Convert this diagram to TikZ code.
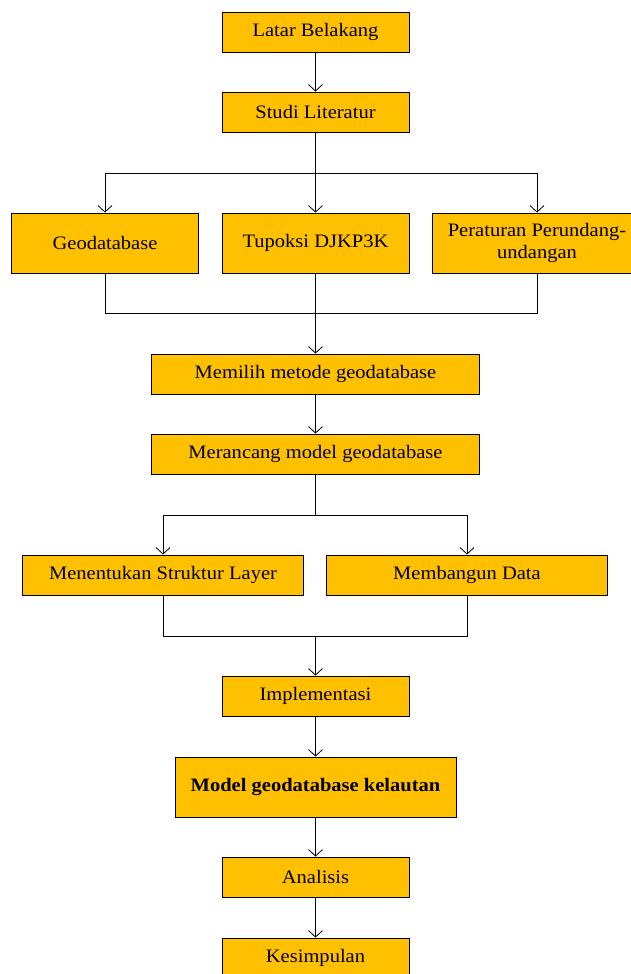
\documentclass[tikz,border=0pt]{standalone}
\usepackage{fontspec}
\setmainfont{Liberation Serif}[FakeStretch=1.08]
\usetikzlibrary{arrows.meta}
\definecolor{emas}{HTML}{FFC000}

\begin{document}
\begin{tikzpicture}[x=1pt,y=-1pt,line width=0.8pt,
  blok/.style={draw=black, fill=emas, line width=0.8pt, inner sep=0pt, align=center, minimum width=187pt, minimum height=40pt, font=\fontsize{19}{21.7}\selectfont},
  panah/.style={-{Straight Barb[length=6.5pt,width=14pt]}}]
\useasboundingbox (0,0) rectangle (630,974);
\node[blok] (st0) at (315.5,32){Latar Belakang};
\node[blok] (st1) at (315.5,112){Studi Literatur};
\draw[panah](st0) -- (st1);
\node[blok, minimum height=60pt] (st2) at (105,243){Geodatabase};
\node[blok, minimum height=60pt] (st3) at (315.5,243){Tupoksi DJKP3K};
\node[blok, minimum width=210pt, minimum height=60pt] (st4) at (537,243){Peraturan Perundang-\\undangan};
\coordinate (jn0) at (315.5,173);
\coordinate (jn1) at (315.5,313);
\draw[](jn0 -| st2.north) -- (jn0 -| st4.north);
\draw[panah](jn0 -| st2.north) -- (st2.north);
\draw[panah](st1.south) -- (st3.north);
\draw[panah](jn0 -| st4.north) -- (st4.north);
\draw[](st2.south) |- (jn1);
\draw[](st4.south) |- (jn1);
\node[blok, minimum width=328pt] (st5) at (315.5,374){Memilih metode geodatabase};
\draw[panah](st3.south) -- (st5.north);
\node[blok, minimum width=328pt] (st6) at (315.5,454){Merancang model geodatabase};
\draw[panah](st5) -- (st6);
\node[blok, minimum width=281pt] (st7) at (163,575){Menentukan Struktur Layer};
\node[blok, minimum width=281pt] (st8) at (467,575){Membangun Data};
\coordinate (jn2) at (315.5,515);
\coordinate (jn3) at (315.5,636);
\draw[](st6.south) -- (jn2);
\draw[](jn2 -| st7.north) -- (jn2 -| st8.north);
\draw[panah](jn2 -| st7.north) -- (st7.north);
\draw[panah](jn2 -| st8.north) -- (st8.north);
\draw[](st7.south) |- (jn3);
\draw[](st8.south) |- (jn3);
\node[blok] (st9) at (315.5,696){Implementasi};
\draw[panah](jn3) -- (st9.north);
\node[blok, minimum width=281pt, minimum height=60pt, font=\fontsize{19}{21.7}\selectfont\bfseries] (st10) at (315.5,787){Model geodatabase kelautan};
\draw[panah](st9) -- (st10);
\node[blok] (st11) at (315.5,877){Analisis};
\draw[panah](st10) -- (st11);
\node[blok] (st12) at (315.5,958){Kesimpulan};
\draw[panah](st11) -- (st12);
\end{tikzpicture}
\end{document}
